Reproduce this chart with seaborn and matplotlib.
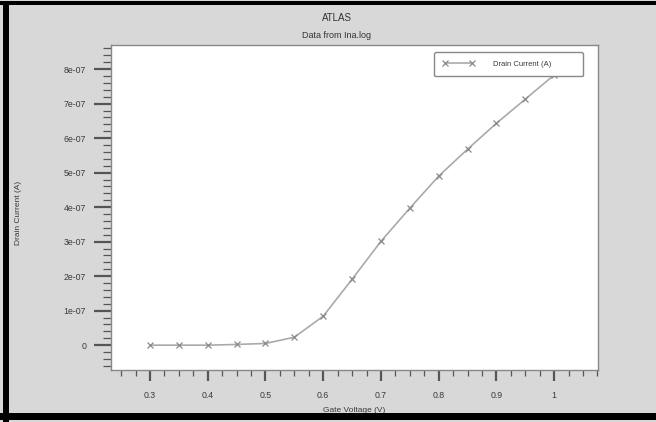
import matplotlib
matplotlib.use("Agg")
import matplotlib.pyplot as plt
import seaborn as sns
import pandas as pd
from matplotlib.patches import Rectangle
from matplotlib.ticker import FixedLocator, MultipleLocator

# ---- data ----
gate_voltage = [0.30, 0.35, 0.40, 0.45, 0.50, 0.55, 0.60, 0.65, 0.70, 0.75, 0.80, 0.85, 0.90, 0.95, 1.00]
drain_current = [0.0, 0.0, 0.0, 0.02e-7, 0.05e-7, 0.23e-7, 0.84e-7, 1.91e-7, 3.01e-7, 3.97e-7,
                 4.90e-7, 5.68e-7, 6.43e-7, 7.13e-7, 7.83e-7]
xticks = [0.3, 0.4, 0.5, 0.6, 0.7, 0.8, 0.9, 1.0]
xtick_labels = ["0.3", "0.4", "0.5", "0.6", "0.7", "0.8", "0.9", "1"]
yticks = [0, 1e-7, 2e-7, 3e-7, 4e-7, 5e-7, 6e-7, 7e-7, 8e-7]
ytick_labels = ["0", "1e-07", "2e-07", "3e-07", "4e-07", "5e-07", "6e-07", "7e-07", "8e-07"]
series_name = "Drain Current (A)"

df = pd.DataFrame({"Gate Voltage (V)": gate_voltage, series_name: drain_current,
                   "series": series_name})

sns.set_theme(style="white")
plt.rcParams["font.family"] = ["Liberation Sans", "DejaVu Sans"]

bg = "#d8d8d8"
fig = plt.figure(figsize=(6.56, 4.22), dpi=100, facecolor=bg)
ax = fig.add_axes([111 / 656, 1 - 370 / 422, 487 / 656, 325 / 422])
ax.set_facecolor("white")

sns.lineplot(data=df, x="Gate Voltage (V)", y=series_name, hue="series",
             palette=["#aaaaaa"], marker="x", markersize=4.5, markeredgewidth=0.9,
             markeredgecolor="#8a8a8a", linewidth=1.2, ax=ax)

ax.set_xlim(0.2324, 1.076)
ax.set_ylim(-0.72e-7, 8.7e-7)

ax.xaxis.set_major_locator(FixedLocator(xticks))
ax.set_xticks(xticks)
ax.set_xticklabels(xtick_labels)
ax.xaxis.set_minor_locator(MultipleLocator(0.025))
ax.set_yticks(yticks)
ax.set_yticklabels(ytick_labels)
ax.yaxis.set_minor_locator(MultipleLocator(0.2e-7))

tick_col = "#555555"
lab_col = "#3a3a3a"
ax.tick_params(axis="x", which="major", direction="out", length=8, width=1.6,
               color=tick_col, labelsize=6.3, labelcolor=lab_col, pad=7, bottom=True)
ax.tick_params(axis="x", which="minor", direction="out", length=4, width=0.9,
               color=tick_col, bottom=True)
ax.tick_params(axis="y", which="major", direction="out", length=12, width=1.6,
               color=tick_col, labelsize=6.3, labelcolor=lab_col, pad=6, left=True)
ax.tick_params(axis="y", which="minor", direction="out", length=6, width=0.9,
               color=tick_col, left=True)

for s in ax.spines.values():
    s.set_color("#888888")
    s.set_linewidth(1.0)

ax.set_xlabel("")
ax.set_ylabel("")
fig.text(354 / 656, 1 - 410 / 422, "Gate Voltage (V)", ha="center", va="center",
         fontsize=6, color=lab_col)
fig.text(19 / 656, 1 - 213 / 422, "Drain Current (A)", ha="center", va="center",
         rotation=90, fontsize=6, color=lab_col)
fig.text(337 / 656, 1 - 18 / 422, "ATLAS", ha="center", va="center",
         fontsize=7, color="#333333")
fig.text(337 / 656, 1 - 36 / 422, "Data from Ina.log", ha="center", va="center",
         fontsize=6.5, color="#333333")

handles, labels = ax.get_legend_handles_labels()
leg = ax.legend(handles, ["Drain Current (A)" + "\u00a0" * 11], loc="upper right",
                bbox_to_anchor=((583 - 111) / 487, 1 - (52 - 45) / 325),
                fontsize=5.5, frameon=True, fancybox=True, numpoints=2,
                handlelength=4.2, handletextpad=2.4, borderpad=1.1,
                borderaxespad=0.0, labelcolor=lab_col)
leg.get_frame().set_edgecolor("#888888")
leg.get_frame().set_linewidth(1.0)
leg.get_frame().set_facecolor("white")
leg.get_frame().set_alpha(1.0)

# black outer frame (screenshot border)
fig.patches.append(Rectangle((0, 1 - 5 / 422), 1, 4 / 422, transform=fig.transFigure,
                             facecolor="black", edgecolor="none", zorder=10))
fig.patches.append(Rectangle((3 / 656, 0), 6 / 656, 1 - 1 / 422, transform=fig.transFigure,
                             facecolor="black", edgecolor="none", zorder=10))
fig.patches.append(Rectangle((0, 2 / 422), 1, 7 / 422, transform=fig.transFigure,
                             facecolor="black", edgecolor="none", zorder=10))

fig.savefig("out.png", dpi=100, facecolor=bg)
